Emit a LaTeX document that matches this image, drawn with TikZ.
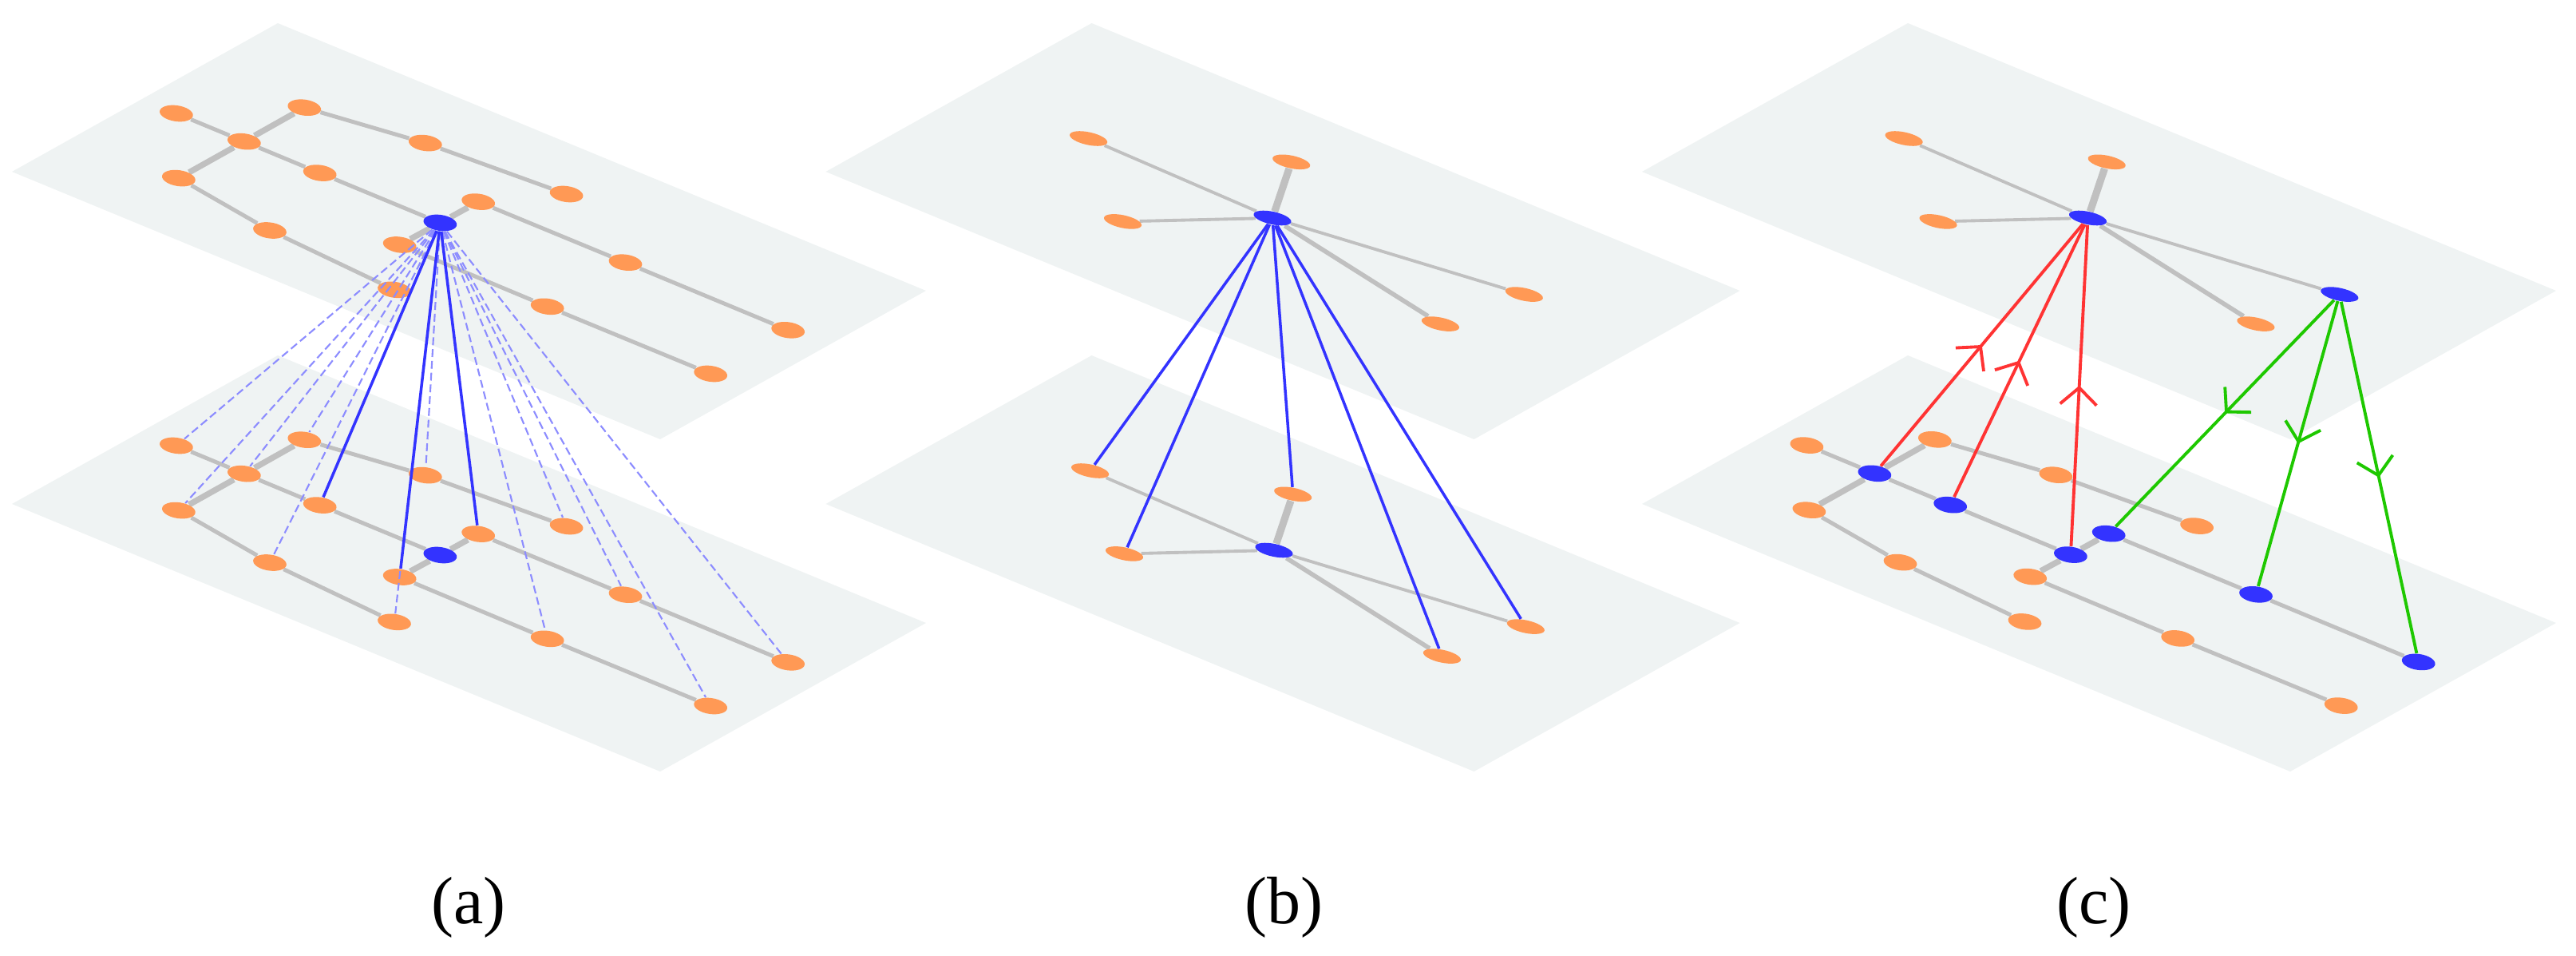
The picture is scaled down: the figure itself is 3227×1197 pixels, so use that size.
\documentclass[tikz,border=0pt]{standalone}
\usepackage{fontspec}
\setmainfont{Liberation Serif}
\usetikzlibrary{shapes.geometric,arrows.meta,decorations.markings}
\pgfdeclarelayer{planelayer}
\pgfdeclarelayer{edgelayer}
\pgfsetlayers{planelayer,edgelayer,main}
\definecolor{planec}{RGB}{239,243,243}
\definecolor{orangec}{RGB}{255,153,85}
\definecolor{bluec}{RGB}{51,51,255}
\definecolor{grayc}{RGB}{192,192,192}
\definecolor{dashc}{RGB}{140,140,255}
\definecolor{redc}{RGB}{255,51,51}
\definecolor{greenc}{RGB}{30,200,0}
\begin{document}
\begin{tikzpicture}[x=0.01cm,y=-0.01cm,
  nA/.style={ellipse,inner sep=0pt,minimum width=0.42cm,minimum height=0.2cm,rotate=-8},
  nB/.style={ellipse,inner sep=0pt,minimum width=0.48cm,minimum height=0.16cm,rotate=-12},
  gedge/.style={draw=grayc,line width=1.42pt},
  gthick/.style={draw=grayc,line width=2.1pt},
  gthin/.style={draw=grayc,line width=1.1pt},
  gmid/.style={draw=grayc,line width=1.6pt},
  gheavy/.style={draw=grayc,line width=2.6pt},
  attn/.style={draw=dashc,line width=0.6pt,dash pattern=on 2.8pt off 1.4pt},
  nbr/.style={draw=bluec,line width=1pt},
  midtip/.style={postaction={decorate},decoration={markings,mark=at position 0.5 with {\arrow{Straight Barb[length=6pt,width=13pt,line width=1.1pt]}}}},
  redarrow/.style={draw=redc,color=redc,line width=1.1pt,midtip},
  greenarrow/.style={draw=greenc,color=greenc,line width=1.1pt,midtip},
  caption/.style={font=\fontsize{23.9}{28}\selectfont,anchor=base,inner sep=0pt}
]
\useasboundingbox (0,0) rectangle (3227,1197);

\begin{pgfonlayer}{planelayer}
\foreach \dx in {0,1019.5,2042}{
  \foreach \dy in {0,416}{
    \fill[planec] ({15+\dx},{215+\dy}) -- ({348+\dx},{29+\dy}) -- ({1160+\dx},{364+\dy}) -- ({827+\dx},{550+\dy}) -- cycle;
  }
}
\end{pgfonlayer}

% grid layout nodes: panel (a) top, (a) lower, (c) lower
\foreach \i/\x/\y/\ca/\cc in {
 1/220.9/142.0/orangec/orangec,
 2/381.3/134.7/orangec/orangec,
 3/305.9/177.2/orangec/bluec,
 4/532.8/179.1/orangec/orangec,
 5/223.9/223.1/orangec/orangec,
 6/400.7/216.6/orangec/bluec,
 7/709.6/243.0/orangec/orangec,
 8/599.2/252.6/orangec/bluec,
 9/551.4/279.0/bluec/bluec,
 10/338.0/288.5/orangec/orangec,
 11/500.7/306.5/orangec/orangec,
 12/783.5/328.7/orangec/bluec,
 13/494.0/362.8/orangec/orangec,
 14/685.7/383.8/orangec/orangec,
 15/987.2/413.3/orangec/bluec,
 16/890.2/468.0/orangec/orangec}{
  \node[nA,fill=\ca] (aT\i) at ({\x},{\y}) {};
  \node[nA,fill=\ca] (aL\i) at ({\x},{\y+416}) {};
  \node[nA,fill=\cc] (cL\i) at ({\x+2042.5},{\y+415.6}) {};
}

% star layout nodes: panel (b) top, (b) lower, (c) top
\foreach \n/\x/\y/\cb/\cc in {
 0/1594/273/bluec/bluec,
 1/1363.6/173.5/orangec/orangec,
 2/1617.7/202.8/orangec/orangec,
 3/1406.5/277.4/orangec/orangec,
 5/1909.3/368.6/orangec/bluec,
 6/1804.4/405.6/orangec/orangec}{
  \node[nB,fill=\cb] (bT\n) at ({\x},{\y}) {};
  \node[nB,fill=\cb] (bL\n) at ({\x+2},{\y+416}) {};
  \node[nB,fill=\cc] (cT\n) at ({\x+1021.5},{\y}) {};
}

\begin{pgfonlayer}{edgelayer}
\foreach \p in {aT,aL,cL}{
  \foreach \u/\v in {1/3,2/4,4/7,3/6,6/9,8/12,12/15,5/10,10/13,11/14,14/16}
    \draw[gedge] (\p\u) -- (\p\v);
  \foreach \u/\v in {3/2,3/5,9/8,9/11}
    \draw[gthick] (\p\u) -- (\p\v);
}
\foreach \p in {bT,bL,cT}{
  \draw[gthin] (\p0) -- (\p1);
  \draw[gheavy] (\p0) -- (\p2);
  \draw[gthin] (\p0) -- (\p3);
  \draw[gthin] (\p0) -- (\p5);
  \draw[gmid] (\p0) -- (\p6);
}
\end{pgfonlayer}

% panel (a) connectors
\foreach \v in {1,2,3,4,5,7,10,12,13,14,15,16}
  \draw[attn] (aT9) -- (aL\v);
\foreach \v in {6,8,11}
  \draw[nbr] (aT9) -- (aL\v);

% panel (b) connectors
\foreach \v in {1,2,3,5,6}
  \draw[nbr] (bT0) -- (bL\v);

% panel (c) connectors
\foreach \v in {3,6,9}
  \draw[redarrow] (cL\v) -- (cT0);
\foreach \v in {8,12,15}
  \draw[greenarrow] (cT5) -- (cL\v);

\node[caption] (capa) at (587,1156) {(a)};
\node[caption] (capb) at (1608,1156) {(b)};
\node[caption] (capc) at (2623,1156) {(c)};
\end{tikzpicture}
\end{document}
